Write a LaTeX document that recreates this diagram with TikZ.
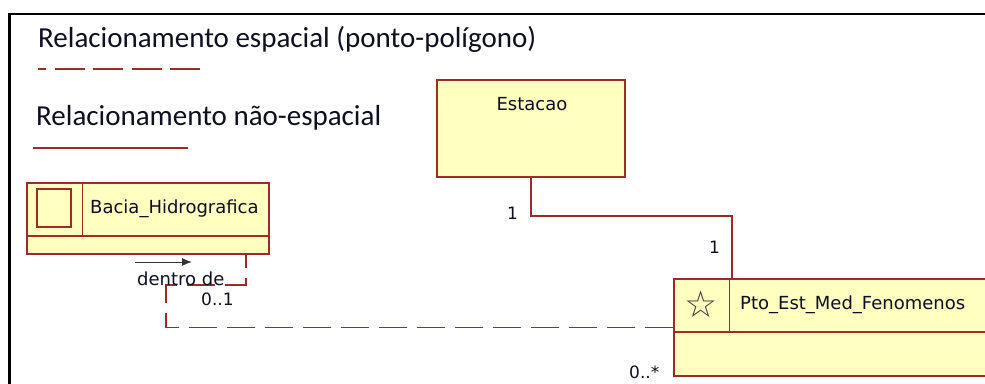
\documentclass[tikz,border=0pt]{standalone}
\usepackage{fontspec}
\setmainfont{DejaVu Sans}
\newfontfamily\legendfont{Carlito}
\usetikzlibrary{positioning,arrows.meta}
\definecolor{umlred}{RGB}{160,42,42}
\definecolor{umlfill}{RGB}{255,255,192}
\definecolor{umltext}{RGB}{14,14,34}

\begin{document}
\begin{tikzpicture}[x=1pt, y=-1pt,
    classbox/.style={draw=umlred, fill=umlfill, line width=1.5pt, inner sep=0pt},
    classname/.style={anchor=base west, inner sep=0pt, text=umltext, font=\fontsize{18}{20}\selectfont},
    mult/.style={anchor=base west, inner sep=0pt, text=umltext, font=\fontsize{17}{20}\selectfont},
    legend/.style={anchor=base west, inner sep=0pt, text=umltext, font=\legendfont\fontsize{29}{32}\selectfont},
    assoc/.style={draw=umlred, line width=1.7pt},
    spatial/.style={assoc, dash pattern=on 28pt off 10pt}]
  \useasboundingbox (0,0) rectangle (985,383);
  \clip (0,0) rectangle (985,383);
  \draw[line width=2.8pt] (9.5,400) -- (9.5,14) -- (1000,14);

  \node[legend] (legsp) at (38,47) {Relacionamento espacial (ponto-polígono)};
  \draw[umlred, line width=1.6pt, dash pattern=on 30pt off 8.5pt] (200,69) -- (38,69);
  \node[legend] (legnsp) at (36,125) {Relacionamento não-espacial};
  \draw[umlred, line width=1.6pt] (33,148) -- (188,148);

  \node[classbox, minimum width=242, minimum height=71] (bacia) at (148,218.5) {};
  \node[classbox, minimum width=34, minimum height=38] (baciaicon) at (54,208) {};
  \draw[classbox] ([yshift=19pt]bacia.south west) -- ([yshift=19pt]bacia.south east)
    ([xshift=56pt]bacia.north west) -- ([shift={(56pt,19pt)}]bacia.south west);
  \node[classname] (bacianame) at (90,213) {Bacia\_Hidrografica};

  \node[classbox, minimum width=188, minimum height=97] (estacao) at (531,128.5) {};
  \node[classname, anchor=base] (estacaoname) at (532,110) {Estacao};

  \node[classbox, minimum width=330, minimum height=97] (pto) at (839,327.5) {};
  \draw[classbox] ([yshift=45pt]pto.south west) -- ([yshift=45pt]pto.south east)
    ([xshift=56pt]pto.north west) -- ([shift={(56pt,45pt)}]pto.south west);
  \node[text=black!75, inner sep=0pt, font=\fontsize{37}{37}\selectfont] (ptoicon) at (701,304) {☆};
  \node[classname] (ptoname) at (740,309) {Pto\_Est\_Med\_Fenomenos};

  \draw[assoc] (estacao.south) -- ++(0,38) -| ([xshift=59pt]pto.north west);
  \draw[spatial] (pto.west) -| ++(-507,-42.5) -| ([xshift=-24pt]bacia.south east);

  \node[mult] (estmult) at (507,219) {1};
  \node[mult] (ptomult) at (709,253) {1};
  \node[classname] (role) at (137,285) {dentro de};
  \draw[-{Latex[length=10pt,width=8pt]}, black!80, line width=1pt]
    ([shift={(-2pt,23pt)}]role.base west) -- ++(57,0);
  \node[mult] (baciamult) at (201,305) {0..1};
  \node[mult] (spmult) at (629,378) {0..*};
\end{tikzpicture}
\end{document}
